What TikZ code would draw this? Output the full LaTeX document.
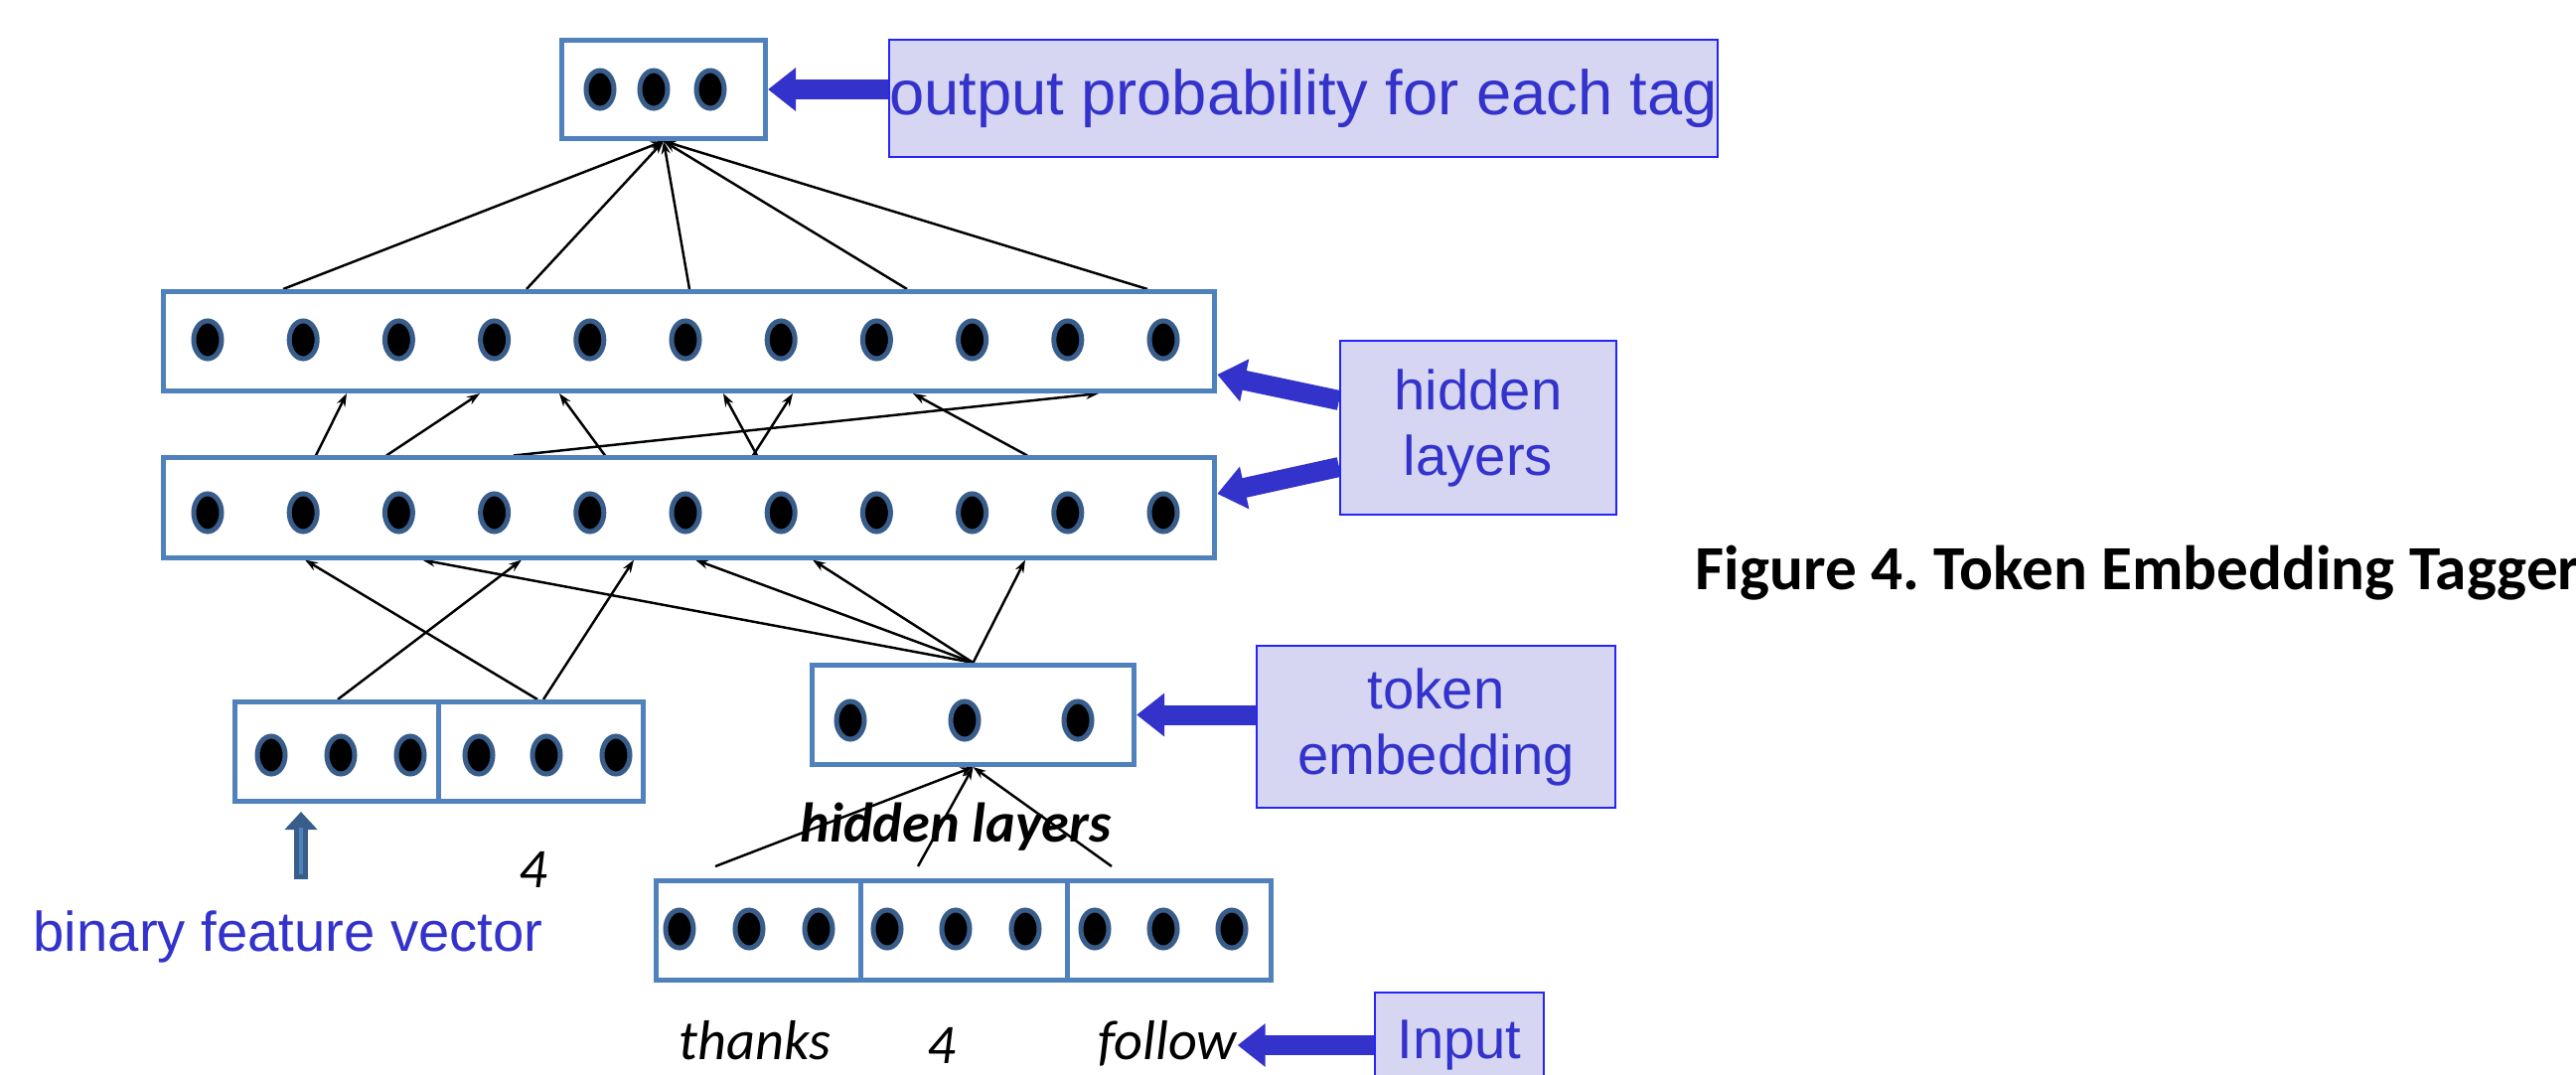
\documentclass[tikz,border=0pt]{standalone}
\usepackage{fontspec}
\setmainfont{Liberation Sans}
\newfontfamily\calibri{Carlito}
\usepackage{tikz}
\usetikzlibrary{shapes.geometric, arrows.meta, backgrounds}
\definecolor{NNbox}{RGB}{79,129,189}
\definecolor{NNdot}{RGB}{56,93,138}
\definecolor{NNlab}{RGB}{214,214,243}
\definecolor{NNline}{RGB}{36,36,255}
\definecolor{NNtext}{RGB}{51,51,204}

\begin{document}
\begin{tikzpicture}[x=0.01cm, y=-0.01cm,
    layer/.style={draw=NNbox, line width=0.05cm, fill=white, inner sep=0pt, minimum height=1cm},
    unit/.style={ellipse, draw=NNdot, fill=black, line width=0.05cm, inner sep=0pt, minimum width=0.28cm, minimum height=0.38cm},
    tag/.style={draw=NNline, fill=NNlab, line width=0.02cm, inner sep=0pt, text=NNtext, align=center, font=\fontsize{16}{18.8}\selectfont},
    word/.style={anchor=base, inner sep=0pt, font=\calibri\itshape\fontsize{16}{19}\selectfont},
    wire/.style={line width=0.7pt, -{Stealth[length=0.13cm, width=0.09cm]}},
    pointer/.style={NNtext, line width=0.2cm, -{Triangle[length=0.28cm, width=0.42cm]}}]
  \useasboundingbox (0,0) rectangle (2593,1081);
  \clip (0,0) rectangle (2593,1081);

  % layers
  \node[layer, minimum width=2.05cm, minimum height=0.99cm] (outp) at (668,90) {};
  \node[layer, minimum width=10.58cm] (hidA) at (693.5,343.5) {};
  \node[layer, minimum width=10.58cm] (hidB) at (693.5,511) {};
  \node[layer, minimum width=4.11cm] (bin) at (442,756.5) {};
  \node[layer, minimum width=3.24cm] (tok) at (979.5,719.5) {};
  \node[layer, minimum width=6.19cm] (inp) at (970,936.5) {};
  \draw[NNbox, line width=0.05cm] (441,0 |- bin.north) -- (441,0 |- bin.south);
  \foreach \x in {866,1074}
    \draw[NNbox, line width=0.05cm] (\x,0 |- inp.north) -- (\x,0 |- inp.south);

  % units
  \foreach \x [count=\i] in {604,658,715} \node[unit] (o\i) at (\x,90) {};
  \foreach \i in {0,...,10} {
    \node[unit] (a\i) at (209+96.2*\i,342) {};
    \node[unit] (b\i) at (209+96.2*\i,516) {};
  }
  \foreach \x [count=\i] in {273,343,413,482,550,620} \node[unit] (f\i) at (\x,760) {};
  \foreach \x [count=\i] in {856,971,1085} \node[unit] (t\i) at (\x,725) {};
  \foreach \x [count=\i] in {684,754,824,893,962,1032,1102,1171,1240} \node[unit] (w\i) at (\x,935) {};

  % labels
  \node[tag, minimum width=8.3cm, minimum height=1.18cm, font=\fontsize{18}{21}\selectfont] (outlab) at (1312,99) {output probability for each tag};
  \node[tag, minimum width=2.78cm, minimum height=1.75cm] (hidlab) at (1488,430.5) {hidden\\layers};
  \node[tag, minimum width=3.61cm, minimum height=1.63cm] (toklab) at (1445.5,731.5) {token\\embedding};
  \node[tag, minimum width=1.7cm, minimum height=1.06cm] (inlab) at (1469,1052) {Input};

  \node[anchor=base west, inner sep=0pt, text=NNtext, font=\fontsize{16}{19}\selectfont] (featlab) at (33,957) {binary feature vector};
  \node[word] (four) at (537,893) {4};
  \node[word] (thanks) at (760,1066) {thanks};
  \node[word] (num) at (948,1070) {4};
  \node[word] (follow) at (1175,1066) {follow};
  \node[word, font=\calibri\bfseries\itshape\fontsize{16}{19}\selectfont] (hidtxt) at (962,847) {hidden layers};
  \node[anchor=base west, inner sep=0pt, font=\calibri\bfseries\fontsize{18}{21}\selectfont] (caption) at (1706,593) {Figure 4.\ Token Embedding Tagger};

  \coordinate (featfoot) at (303,885);
  \foreach \s [count=\i] in {720,924,1119} \coordinate (in\i) at (\s,872);

  \begin{scope}[on background layer]
    \foreach \x in {285,530,694,913,1155}
      \draw[wire] (\x,0 |- hidA.north) -- (outp.south);
    \foreach \s/\t in {318/349, 389/483, 609/563, 517/1106, 762/728, 758/798, 1034/919}
      \draw[wire] (\s,0 |- hidB.north) -- (\t,0 |- hidA.south);
    \foreach \s/\t in {340/525, 541/307, 547/638}
      \draw[wire] (\s,0 |- bin.north) -- (\t,0 |- hidB.south);
    \foreach \t in {425,700,818,1032}
      \draw[wire] (tok.north) -- (\t,0 |- hidB.south);
    \foreach \i in {1,2,3}
      \draw[wire] (in\i) -- (tok.south);

    \draw[pointer] (outlab.west |- outp.east) -- (outp.east);
    \draw[pointer] ([yshift=0.275cm]hidlab.west) -- ([yshift=-0.335cm]hidA.east);
    \draw[pointer] ([yshift=-0.395cm]hidlab.west) -- ([yshift=0.14cm]hidB.east);
    \draw[pointer] (toklab.west |- tok.east) -- (tok.east);
    \draw[pointer] (inlab.west) -- (follow.east |- inlab.west);
  \end{scope}

  \draw[NNdot, line width=0.14cm, shorten >=0.08cm, -{Triangle[length=0.18cm, width=0.32cm]}] (featfoot) -- (303,0 |- bin.south);
  \draw[NNbox, line width=0.04cm] ([yshift=0.05cm]featfoot) -- ([yshift=0.52cm]featfoot);
\end{tikzpicture}
\end{document}
